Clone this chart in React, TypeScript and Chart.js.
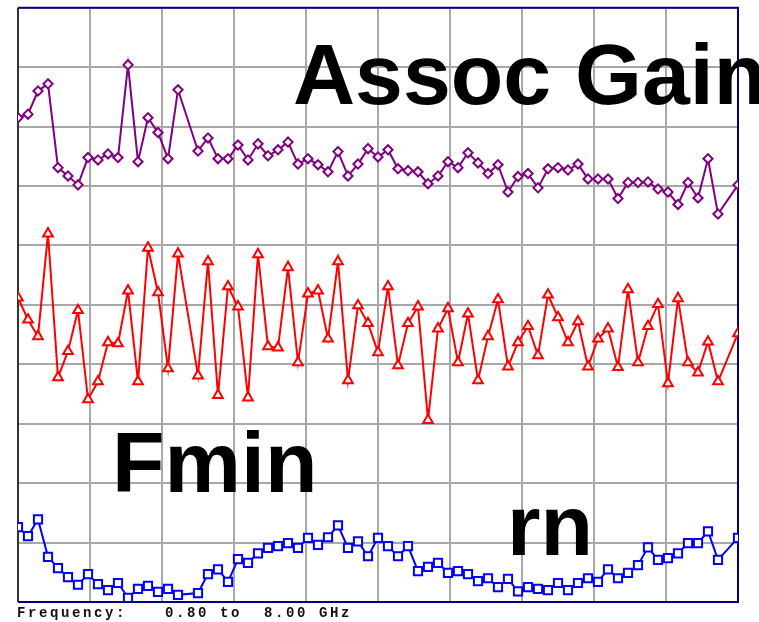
import React, { useEffect, useRef } from "react";
import { Chart, registerables } from "chart.js";

Chart.register(...registerables);

// Frequency points (GHz); 2.5 and 7.9 GHz are absent in the sweep
const FREQ_GHZ = [
  0.8, 0.9, 1.0, 1.1, 1.2, 1.3, 1.4, 1.5, 1.6, 1.7, 1.8, 1.9, 2.0, 2.1, 2.2, 2.3, 2.4,
  2.6, 2.7, 2.8, 2.9, 3.0, 3.1, 3.2, 3.3, 3.4, 3.5, 3.6, 3.7, 3.8, 3.9, 4.0, 4.1, 4.2,
  4.3, 4.4, 4.5, 4.6, 4.7, 4.8, 4.9, 5.0, 5.1, 5.2, 5.3, 5.4, 5.5, 5.6, 5.7, 5.8, 5.9,
  6.0, 6.1, 6.2, 6.3, 6.4, 6.5, 6.6, 6.7, 6.8, 6.9, 7.0, 7.1, 7.2, 7.3, 7.4, 7.5, 7.6,
  7.7, 7.8, 8.0,
];

// Trace values in screen divisions (0 = bottom, 10 = top)
const ASSOC_GAIN = [
  8.15, 8.21, 8.6, 8.72, 7.31, 7.17, 7.02, 7.48, 7.44, 7.54, 7.48, 9.04, 7.41, 8.15, 7.9, 7.46, 8.62,
  7.59, 7.81, 7.46, 7.46, 7.69, 7.44, 7.71, 7.51, 7.61, 7.74, 7.37, 7.46, 7.36, 7.24, 7.58, 7.17, 7.37,
  7.63, 7.49, 7.61, 7.29, 7.26, 7.24, 7.04, 7.17, 7.41, 7.31, 7.56, 7.39, 7.21, 7.36, 6.9, 7.16, 7.21,
  6.97, 7.29, 7.31, 7.27, 7.37, 7.12, 7.12, 7.12, 6.79, 7.06, 7.06, 7.07, 6.95, 6.9, 6.69, 7.06, 6.8,
  7.46, 6.53, 7.02,
];

const FMIN = [
  5.12, 4.75, 4.47, 6.2, 3.78, 4.22, 4.91, 3.41, 3.71, 4.37, 4.35, 5.24, 3.71, 5.96, 5.21, 3.93, 5.86,
  3.81, 5.73, 3.48, 5.31, 4.97, 3.44, 5.85, 4.3, 4.28, 5.63, 4.03, 5.19, 5.24, 4.43, 5.73, 3.73, 4.99,
  4.69, 4.2, 5.31, 3.98, 4.69, 4.97, 3.06, 4.6, 4.94, 4.03, 4.85, 3.73, 4.47, 5.09, 3.96, 4.37, 4.64,
  4.15, 5.17, 4.79, 4.37, 4.72, 3.96, 4.43, 4.6, 3.95, 5.26, 4.03, 4.64, 5.01, 3.68, 5.11, 4.03, 3.86,
  4.38, 3.71, 4.52,
];

const RN = [
  1.26, 1.11, 1.39, 0.76, 0.57, 0.42, 0.29, 0.47, 0.3, 0.2, 0.32, 0.07, 0.22, 0.27, 0.17, 0.22, 0.12,
  0.15, 0.47, 0.55, 0.34, 0.72, 0.66, 0.82, 0.91, 0.94, 0.99, 0.91, 1.08, 0.96, 1.09, 1.29, 0.91, 1.02,
  0.77, 1.08, 0.94, 0.77, 0.94, 0.52, 0.59, 0.66, 0.49, 0.52, 0.47, 0.35, 0.4, 0.25, 0.39, 0.18, 0.25,
  0.22, 0.2, 0.32, 0.2, 0.32, 0.4, 0.34, 0.55, 0.4, 0.49, 0.62, 0.92, 0.71, 0.74, 0.82, 0.99, 0.99,
  1.19, 0.71, 1.08,
];

// Vertical grid positions (GHz), 10 divisions from 0.80 to 8.00
const X_GRID = [0.8, 1.52, 2.24, 2.96, 3.68, 4.4, 5.12, 5.84, 6.56, 7.28, 8.0];

const LABELS = [
  { text: "Assoc Gain", x: 293, y: 104 },
  { text: "Fmin", x: 112, y: 492 },
  { text: "rn", x: 507, y: 555 },
];
const FOOTER_LEFT = "Frequency:";
const FOOTER_RIGHT = "0.80 to  8.00 GHz";

const toPoints = (vals: number[]) => vals.map((v, i) => ({ x: FREQ_GHZ[i], y: v }));

const overlayPlugin = {
  id: "overlay",
  beforeDatasetsDraw(chart: any) {
    const { ctx, chartArea: a } = chart;
    ctx.save();
    ctx.lineWidth = 2;
    ctx.strokeStyle = "#000080";
    ctx.beginPath();
    ctx.moveTo(a.left, a.top);
    ctx.lineTo(a.right, a.top);
    ctx.lineTo(a.right, a.bottom);
    ctx.lineTo(a.left, a.bottom);
    ctx.stroke();
    ctx.strokeStyle = "#333333";
    ctx.beginPath();
    ctx.moveTo(a.left, a.top);
    ctx.lineTo(a.left, a.bottom);
    ctx.stroke();
    ctx.restore();
  },
  afterDraw(chart: any) {
    const { ctx } = chart;
    ctx.save();
    ctx.fillStyle = "#000";
    ctx.textBaseline = "alphabetic";
    ctx.textAlign = "left";
    ctx.font = 'bold 86px "Liberation Sans", Arial, sans-serif';
    LABELS.forEach((l) => ctx.fillText(l.text, l.x, l.y));
    ctx.font = 'bold 14px "Liberation Mono", "DejaVu Sans Mono", monospace';
    try {
      (ctx as any).letterSpacing = "2.6px";
    } catch (e) {}
    ctx.fillStyle = "#111";
    ctx.fillText(FOOTER_LEFT, 17, 617);
    ctx.fillText(FOOTER_RIGHT, 165, 617);
    ctx.restore();
  },
};

export default function App() {
  const ref = useRef<HTMLCanvasElement | null>(null);

  useEffect(() => {
    if (!ref.current) return;
    const chart = new Chart(ref.current, {
      type: "line",
      data: {
        datasets: [
          {
            label: "Assoc Gain",
            data: toPoints(ASSOC_GAIN),
            borderColor: "#800080",
            borderWidth: 2,
            pointStyle: "rectRot",
            pointRadius: 4.6,
            pointBorderWidth: 2,
            pointBorderColor: "#800080",
            pointBackgroundColor: "#ffffff",
            tension: 0,
          },
          {
            label: "Fmin",
            data: toPoints(FMIN),
            borderColor: "#ff0000",
            borderWidth: 2,
            pointStyle: "triangle",
            pointRadius: 5.6,
            pointBorderWidth: 2,
            pointBorderColor: "#ff0000",
            pointBackgroundColor: "#ffffff",
            tension: 0,
          },
          {
            label: "rn",
            data: toPoints(RN),
            borderColor: "#0000ff",
            borderWidth: 2,
            pointStyle: "rect",
            pointRadius: 5.8,
            pointBorderWidth: 2,
            pointBorderColor: "#0000ff",
            pointBackgroundColor: "#ffffff",
            tension: 0,
          },
        ],
      },
      options: {
        responsive: false,
        animation: false,
        layout: { padding: { left: 18, top: 7, right: 21, bottom: 20 } },
        plugins: {
          legend: { display: false },
          tooltip: { enabled: false },
          title: { display: false },
        },
        scales: {
          x: {
            type: "linear",
            min: 0.8,
            max: 8.0,
            afterBuildTicks: (scale: any) => {
              scale.ticks = X_GRID.map((v) => ({ value: v }));
            },
            afterFit: (scale: any) => {
              scale.height = 0;
            },
            ticks: { display: false },
            grid: { color: "#a8a8a8", lineWidth: 2, drawTicks: false },
            border: { display: false },
          },
          y: {
            type: "linear",
            min: 0,
            max: 10,
            ticks: { display: false, stepSize: 1 },
            afterFit: (scale: any) => {
              scale.width = 0;
            },
            grid: { color: "#a8a8a8", lineWidth: 2, drawTicks: false },
            border: { display: false },
          },
        },
      },
      plugins: [overlayPlugin],
    });
    return () => chart.destroy();
  }, []);

  return (
    <div style={{ position: "absolute", left: 0, top: 0, width: 759, height: 622, background: "#fff" }}>
      <canvas ref={ref} width={759} height={622} style={{ display: "block" }} />
    </div>
  );
}
